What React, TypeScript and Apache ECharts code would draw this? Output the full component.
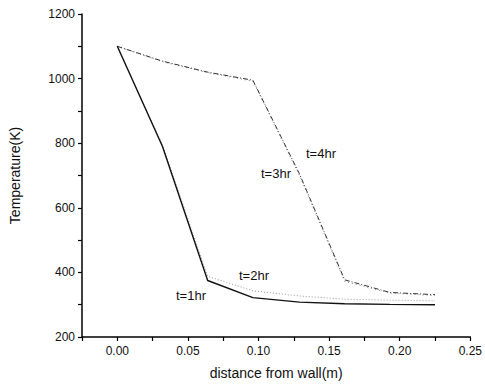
import React, { useEffect, useRef } from "react";
import * as echarts from "echarts";

const xValues = [0, 0.032, 0.064, 0.096, 0.129, 0.161, 0.193, 0.225];
const t1 = [1100, 790, 375, 322, 308, 303, 301, 300];
const t2 = [1100, 795, 388, 343, 327, 317, 314, 312];
const t3 = [1100, 1052, 1018, 992, 700, 372, 336, 328];
const t4 = [1100, 1054, 1020, 995, 705, 377, 338, 331];
const seriesNames = ["t=1hr", "t=2hr", "t=3hr", "t=4hr"];

const font = "Liberation Sans, Arial, sans-serif";

export default function App() {
  const ref = useRef<HTMLDivElement>(null);
  useEffect(() => {
    if (!ref.current) return;
    const chart = echarts.init(ref.current, undefined, { renderer: "svg" });
    const pair = (ys: number[]) => xValues.map((x, i) => [x, ys[i]]);
    chart.setOption({
      animation: false,
      backgroundColor: "#fff",
      grid: { left: 79, right: 11, top: 14, bottom: 49 },
      xAxis: {
        type: "value",
        min: -0.025,
        max: 0.25,
        interval: 0.025,
        name: "distance from wall(m)",
        nameLocation: "middle",
        nameGap: 29,
        nameTextStyle: { fontFamily: font, fontSize: 14, color: "#111" },
        axisLine: { show: true, onZero: false, lineStyle: { color: "#000", width: 1.5 } },
        axisTick: { show: true, length: 4, lineStyle: { color: "#000", width: 1.2 } },
        axisLabel: {
          fontFamily: font,
          fontSize: 12,
          color: "#111",
          margin: 8,
          formatter: (v: number) => {
            const k = Math.round(v * 1000);
            return k % 50 === 0 && k >= 0 ? v.toFixed(2) : "";
          },
        },
        splitLine: { show: false },
      },
      yAxis: {
        type: "value",
        min: 200,
        max: 1200,
        interval: 100,
        name: "Temperature(K)",
        nameLocation: "middle",
        nameGap: 60,
        nameTextStyle: { fontFamily: font, fontSize: 14, color: "#111" },
        axisLine: { show: true, onZero: false, lineStyle: { color: "#000", width: 1.5 } },
        axisTick: { show: true, length: 4, lineStyle: { color: "#000", width: 1.2 } },
        axisLabel: {
          fontFamily: font,
          fontSize: 12,
          color: "#111",
          margin: 7,
          formatter: (v: number) => (v % 200 === 0 ? String(v) : ""),
        },
        splitLine: { show: false },
      },
      series: [
        {
          name: seriesNames[0],
          type: "line",
          data: pair(t1),
          showSymbol: false,
          lineStyle: { color: "#111", width: 1.4, type: "solid" },
          z: 4,
        },
        {
          name: seriesNames[1],
          type: "line",
          data: pair(t2),
          showSymbol: false,
          lineStyle: { color: "#999", width: 1, type: [1, 2] },
          z: 3,
        },
        {
          name: seriesNames[2],
          type: "line",
          data: pair(t3),
          showSymbol: false,
          lineStyle: { color: "#888", width: 1, type: [1, 3] },
          z: 2,
        },
        {
          name: seriesNames[3],
          type: "line",
          data: pair(t4),
          showSymbol: false,
          lineStyle: { color: "#333", width: 1, type: [5, 2, 1, 2] },
          z: 2,
        },
      ],
      graphic: [
        { type: "text", x: 306, y: 147, style: { text: seriesNames[3], font: `13px ${font}`, fill: "#111" } },
        { type: "text", x: 261, y: 167, style: { text: seriesNames[2], font: `13px ${font}`, fill: "#111" } },
        { type: "text", x: 239, y: 269, style: { text: seriesNames[1], font: `13px ${font}`, fill: "#111" } },
        { type: "text", x: 176, y: 289, style: { text: seriesNames[0], font: `13px ${font}`, fill: "#111" } },
      ],
    });
    return () => chart.dispose();
  }, []);
  return <div ref={ref} style={{ width: 485, height: 386, position: "absolute", left: 0, top: 0 }} />;
}
